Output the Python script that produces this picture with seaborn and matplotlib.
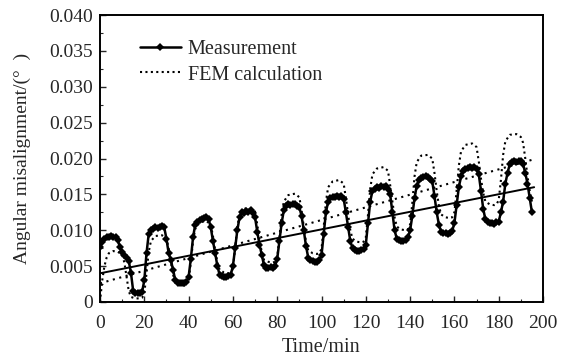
import numpy as np
import pandas as pd
import matplotlib
matplotlib.use("Agg")
import matplotlib.pyplot as plt
import seaborn as sns
from matplotlib.ticker import MultipleLocator

# Measured angular misalignment, one reading per minute (t = 0..195)
meas_time = list(range(0, 196))
meas_values = [
    # 0-19
    0.0077, 0.0084, 0.0088, 0.0090, 0.0091, 0.0092, 0.0091, 0.0090, 0.0087, 0.0076,
    0.0070, 0.0066, 0.0062, 0.0057, 0.0040, 0.0015, 0.0013, 0.0013, 0.0012, 0.0014,
    # 20-39
    0.0030, 0.0068, 0.0095, 0.0100, 0.0102, 0.0104, 0.0103, 0.0105, 0.0106, 0.0104,
    0.0088, 0.0068, 0.0058, 0.0045, 0.0030, 0.0027, 0.0026, 0.0026, 0.0027, 0.0028,
    # 40-59
    0.0035, 0.0060, 0.0090, 0.0108, 0.0112, 0.0114, 0.0116, 0.0117, 0.0118, 0.0116,
    0.0104, 0.0085, 0.0068, 0.0050, 0.0038, 0.0036, 0.0035, 0.0035, 0.0036, 0.0038,
    # 60-79
    0.0050, 0.0075, 0.0100, 0.0118, 0.0126, 0.0124, 0.0127, 0.0125, 0.0128, 0.0124,
    0.0118, 0.0098, 0.0080, 0.0066, 0.0052, 0.0048, 0.0048, 0.0049, 0.0048, 0.0050,
    # 80-99
    0.0060, 0.0085, 0.0110, 0.0128, 0.0134, 0.0136, 0.0135, 0.0137, 0.0136, 0.0134,
    0.0132, 0.0120, 0.0100, 0.0078, 0.0062, 0.0058, 0.0057, 0.0056, 0.0056, 0.0058,
    # 100-119
    0.0065, 0.0095, 0.0125, 0.0140, 0.0145, 0.0147, 0.0146, 0.0148, 0.0147, 0.0148,
    0.0144, 0.0125, 0.0105, 0.0085, 0.0075, 0.0072, 0.0071, 0.0071, 0.0072, 0.0074,
    # 120-139
    0.0080, 0.0110, 0.0140, 0.0155, 0.0158, 0.0160, 0.0159, 0.0161, 0.0160, 0.0161,
    0.0158, 0.0150, 0.0125, 0.0100, 0.0088, 0.0086, 0.0085, 0.0085, 0.0086, 0.0090,
    # 140-159
    0.0100, 0.0120, 0.0145, 0.0162, 0.0170, 0.0173, 0.0174, 0.0175, 0.0174, 0.0172,
    0.0168, 0.0148, 0.0125, 0.0108, 0.0098, 0.0096, 0.0096, 0.0095, 0.0096, 0.0099,
    # 160-179
    0.0110, 0.0135, 0.0160, 0.0175, 0.0183, 0.0186, 0.0187, 0.0188, 0.0187, 0.0188,
    0.0185, 0.0178, 0.0155, 0.0130, 0.0115, 0.0111, 0.0110, 0.0110, 0.0109, 0.0112,
    # 180-195
    0.0112, 0.0125, 0.0140, 0.0165, 0.0180, 0.0192, 0.0195, 0.0196, 0.0195, 0.0197,
    0.0196, 0.0192, 0.0180, 0.0165, 0.0145, 0.0125,
]

# FEM calculation (key points of the computed curve)
fem_time = [
    0, 1, 2, 3, 4, 6, 8, 10, 11, 12, 13, 14, 16, 18, 19,
    20, 21, 22, 23, 25, 28, 30, 31, 32, 33, 34, 36, 38, 39,
    40, 41, 42, 43, 45, 48, 50, 51, 52, 53, 54, 56, 58, 59,
    60, 61, 62, 63, 65, 68, 70, 71, 72, 73, 74, 76, 78, 79,
    80, 81, 82, 83, 85, 88, 90, 91, 92, 93, 94, 96, 98, 99,
    100, 101, 102, 103, 105, 108, 110, 111, 112, 113, 114, 116, 118, 119,
    120, 121, 122, 123, 125, 128, 130, 131, 132, 133, 134, 136, 138, 139,
    140, 141, 142, 143, 145, 148, 150, 151, 152, 153, 154, 156, 158, 159,
    160, 161, 162, 163, 165, 168, 170, 171, 172, 173, 174, 176, 178, 179,
    180, 181, 182, 183, 185, 188, 190, 191, 192, 193, 194, 195,
]
fem_values = [
    0.0000, 0.0030, 0.0050, 0.0062, 0.0068, 0.0071, 0.0070, 0.0066, 0.0055, 0.0035, 0.0015, 0.0007, 0.0005, 0.0005, 0.0006,
    0.0012, 0.0040, 0.0070, 0.0085, 0.0092, 0.0093, 0.0089, 0.0075, 0.0055, 0.0038, 0.0028, 0.0024, 0.0023, 0.0024,
    0.0030, 0.0055, 0.0085, 0.0102, 0.0111, 0.0113, 0.0108, 0.0092, 0.0072, 0.0055, 0.0045, 0.0041, 0.0040, 0.0041,
    0.0046, 0.0075, 0.0105, 0.0122, 0.0130, 0.0131, 0.0126, 0.0108, 0.0088, 0.0070, 0.0059, 0.0056, 0.0055, 0.0056,
    0.0062, 0.0090, 0.0122, 0.0140, 0.0149, 0.0151, 0.0146, 0.0128, 0.0105, 0.0084, 0.0072, 0.0068, 0.0067, 0.0068,
    0.0074, 0.0105, 0.0140, 0.0160, 0.0168, 0.0170, 0.0165, 0.0145, 0.0122, 0.0100, 0.0088, 0.0084, 0.0083, 0.0084,
    0.0090, 0.0122, 0.0158, 0.0178, 0.0186, 0.0188, 0.0183, 0.0163, 0.0140, 0.0118, 0.0105, 0.0101, 0.0100, 0.0101,
    0.0108, 0.0138, 0.0175, 0.0195, 0.0204, 0.0205, 0.0200, 0.0180, 0.0155, 0.0134, 0.0122, 0.0118, 0.0117, 0.0118,
    0.0125, 0.0155, 0.0190, 0.0210, 0.0219, 0.0221, 0.0216, 0.0196, 0.0172, 0.0152, 0.0140, 0.0136, 0.0135, 0.0136,
    0.0142, 0.0170, 0.0205, 0.0224, 0.0233, 0.0234, 0.0230, 0.0222, 0.0200, 0.0175, 0.0155, 0.0140,
]

# Linear trend lines (end points)
trend_time = [0, 196]
meas_trend = [0.0040, 0.0160]
fem_trend = [0.0026, 0.0199]

x_ticks = [0, 20, 40, 60, 80, 100, 120, 140, 160, 180, 200]
y_ticks = [0, 0.005, 0.010, 0.015, 0.020, 0.025, 0.030, 0.035, 0.040]
y_tick_labels = ["0", "0.005", "0.010", "0.015", "0.020", "0.025", "0.030", "0.035", "0.040"]

sns.set_style("ticks")
plt.rcParams['font.family'] = ['Liberation Serif', 'DejaVu Serif']

meas = pd.DataFrame({"t": meas_time, "v": meas_values})
fem = pd.DataFrame({"t": fem_time, "v": fem_values})

fig = plt.figure(figsize=(5.74, 3.6), dpi=100)
ax = fig.add_axes([100 / 574, 1 - 302 / 360, 443 / 574, 287 / 360])

sns.lineplot(data=meas, x="t", y="v", ax=ax, color="black", lw=1.8,
             marker="D", markersize=3.6, markeredgewidth=0, label="Measurement")
sns.lineplot(data=fem, x="t", y="v", ax=ax, color="black", lw=1.5,
             linestyle=(0, (1, 1.6)), label="FEM calculation")
sns.lineplot(x=trend_time, y=meas_trend, ax=ax, color="black", lw=1.4, legend=False)
sns.lineplot(x=trend_time, y=fem_trend, ax=ax, color="black", lw=1.5,
             linestyle=(0, (1, 2.2)), legend=False)

ax.set_xlim(0, 200)
ax.set_ylim(0, 0.040)
ax.set_xticks(x_ticks)
ax.set_xticklabels([str(v) for v in x_ticks])
ax.set_yticks(y_ticks)
ax.set_yticklabels(y_tick_labels)
ax.xaxis.set_minor_locator(MultipleLocator(10))
ax.yaxis.set_minor_locator(MultipleLocator(0.0025))
ax.tick_params(which="both", direction="in", labelsize=14)
ax.tick_params(axis="x", pad=9)
ax.tick_params(axis="y", pad=5)
ax.tick_params(which="major", length=4, width=1)
ax.tick_params(which="minor", length=2, width=0.8)
for s in ax.spines.values():
    s.set_linewidth(1.4)
    s.set_color("black")

ax.set_xlabel("Time/min", fontsize=14.5, labelpad=5)
ax.set_ylabel("Angular misalignment/(°  )", fontsize=14, labelpad=13)

handles, labels = ax.get_legend_handles_labels()
ax.legend(handles, labels, loc="upper left", bbox_to_anchor=(0.05, 0.975),
          frameon=False, fontsize=14.5, handlelength=2.0, handletextpad=0.35,
          labelspacing=0.3, numpoints=1)

fig.savefig("out.png", dpi=100)
